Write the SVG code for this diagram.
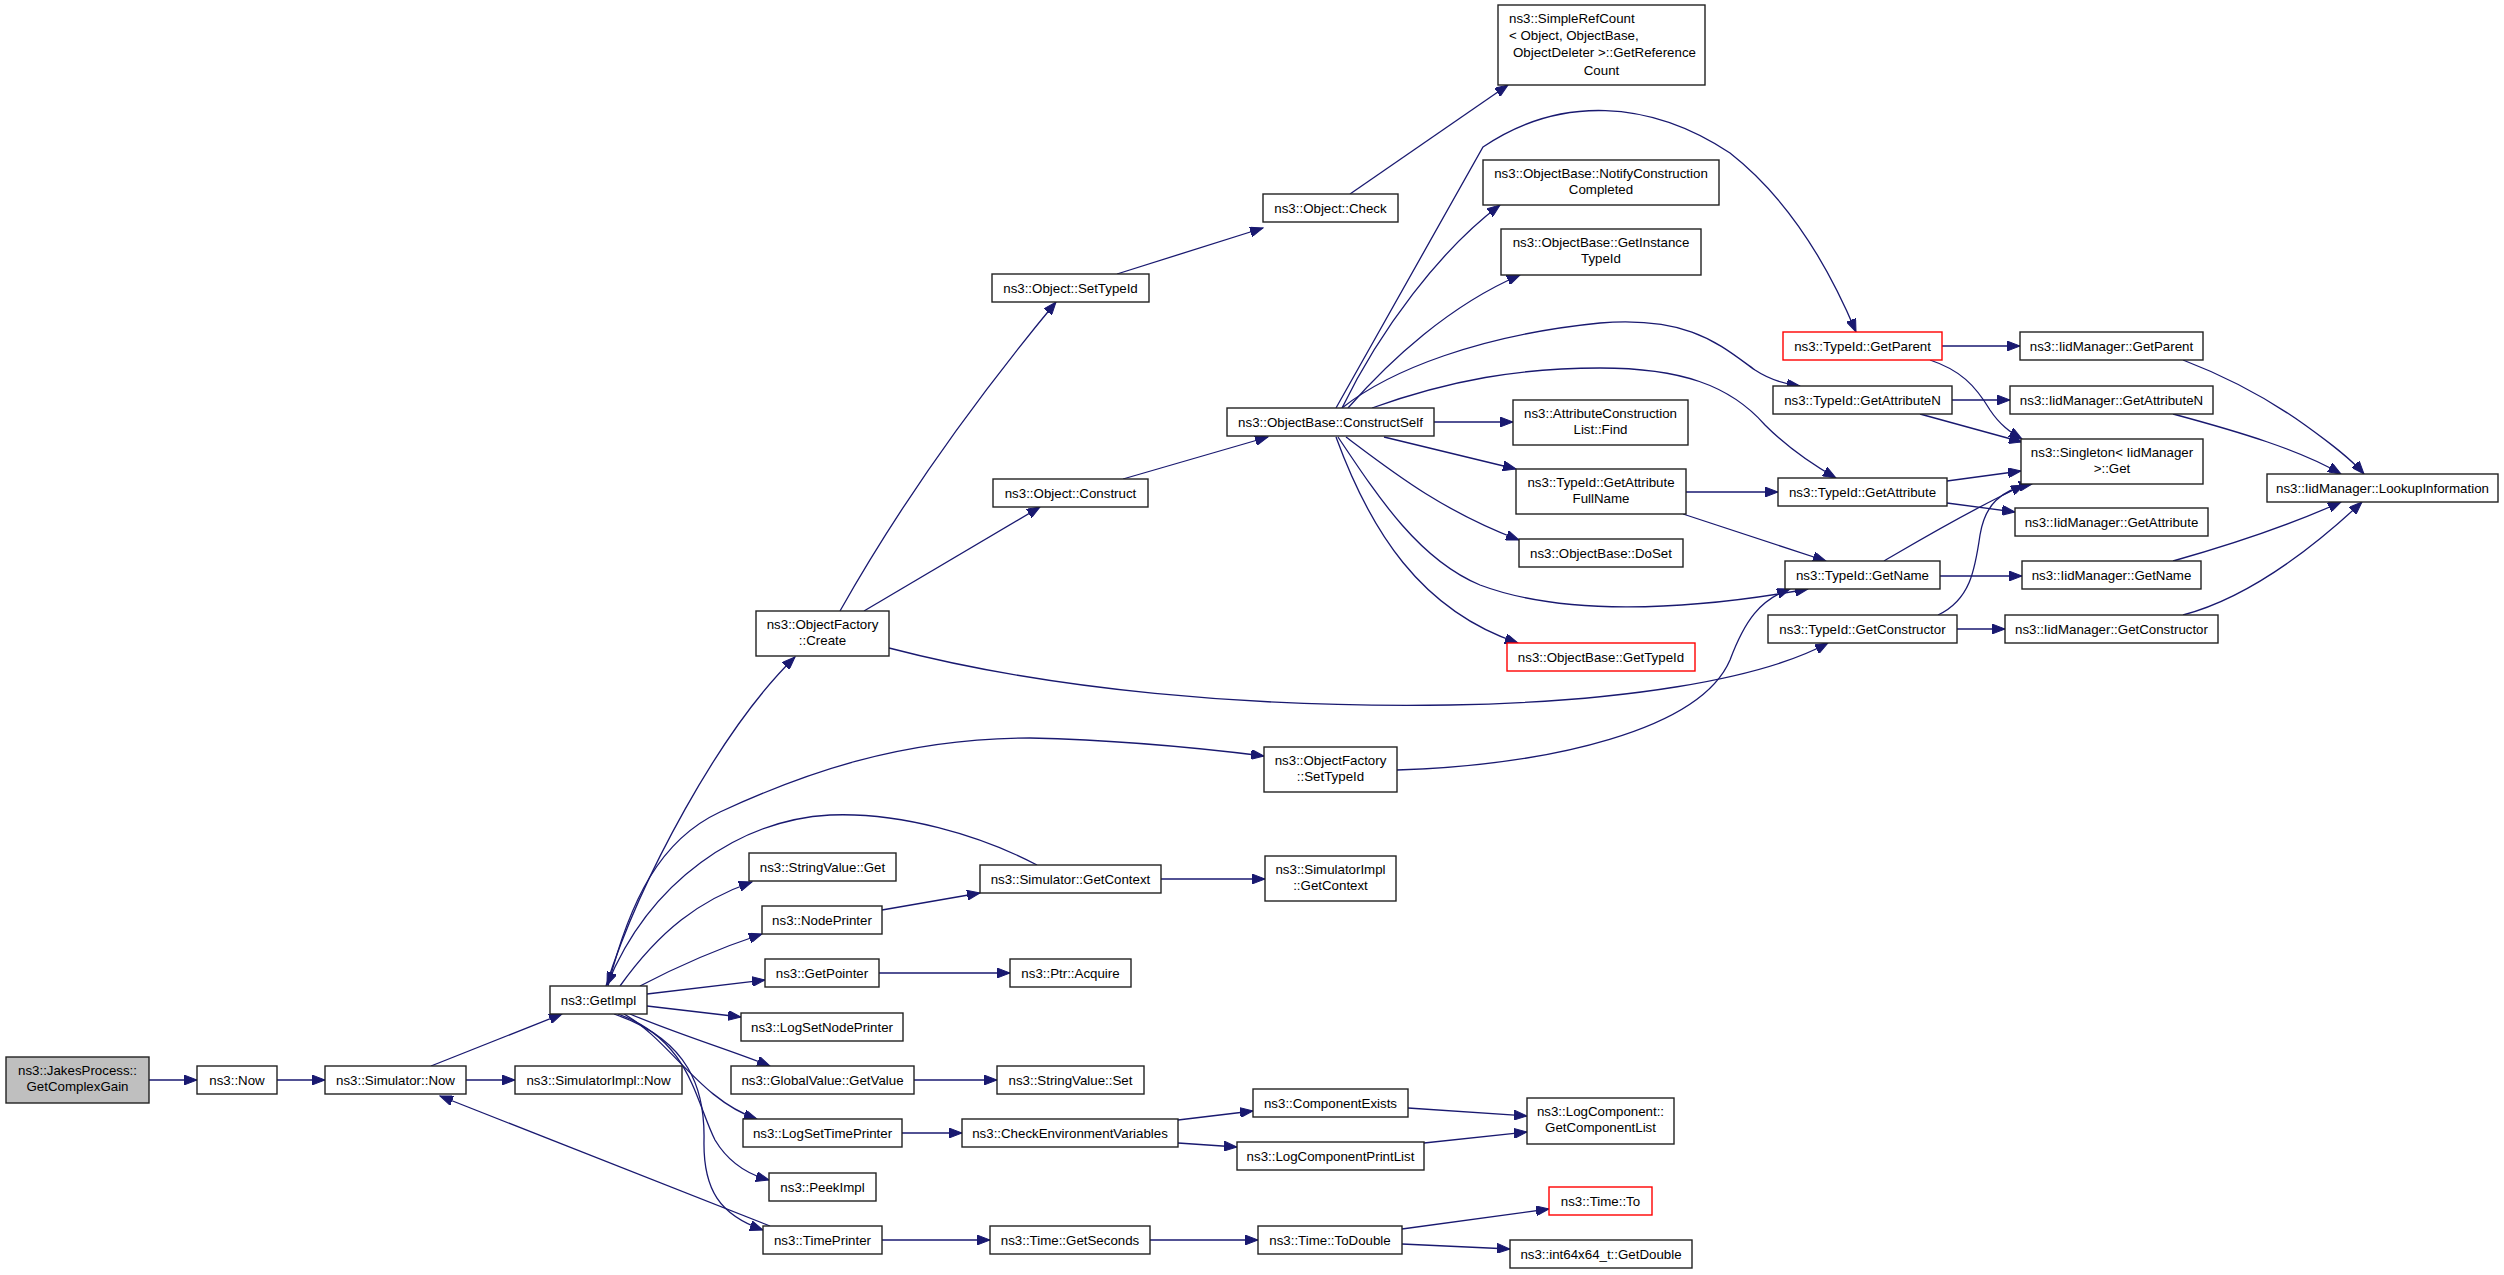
<svg xmlns="http://www.w3.org/2000/svg" width="2504" height="1275" viewBox="0 0 2504 1275">
<defs>
<marker id="a" markerWidth="14" markerHeight="10" refX="13" refY="5" orient="auto" markerUnits="userSpaceOnUse"><path d="M0,0 L13,5 L0,10 z" fill="#191970" stroke="#191970" stroke-width="1"/></marker>
<style>
.n rect{fill:#fff;stroke:#222;stroke-width:1.4}
.n.r rect{stroke:#f00}
.n.g rect{fill:#bfbfbf}
text{font-family:"Liberation Sans",Arial,Helvetica,sans-serif;font-size:13.3px;fill:#000;text-anchor:middle}
text.l{text-anchor:start}
#edges path{fill:none;stroke:#191970;stroke-width:1.3;marker-end:url(#a)}
</style>
</defs>
<rect width="2504" height="1275" fill="#fff"/>
<g id="edges">
<path d="M149,1080 L197,1080"/>
<path d="M277,1080 L325,1080"/>
<path d="M466,1080 L515,1080"/>
<path d="M431,1066 L562,1014"/>
<path d="M770,1226 L440,1096"/>
<path d="M606,986 C640,880 720,730 795,657"/>
<path d="M608,986 C630,900 660,840 720,812 C800,775 900,738 1030,738 C1120,740 1200,748 1264,756"/>
<path d="M1037,865 C980,835 900,812 830,815 C740,820 650,880 607,985"/>
<path d="M620,986 C660,930 700,900 752,882"/>
<path d="M640,986 C680,965 720,948 762,934"/>
<path d="M647,994 L765,980"/>
<path d="M647,1006 L741,1017"/>
<path d="M630,1014 C680,1035 730,1050 770,1066"/>
<path d="M624,1014 C670,1040 700,1100 757,1119"/>
<path d="M618,1014 C690,1040 695,1100 715,1140 C730,1165 750,1175 769,1180"/>
<path d="M614,1014 C690,1040 705,1090 704,1140 C703,1190 720,1215 763,1230"/>
<path d="M840,611 C880,540 950,430 1056,302"/>
<path d="M864,611 L1040,507"/>
<path d="M889,648 C1050,690 1250,708 1450,705 C1620,702 1760,680 1828,643"/>
<path d="M1117,274 L1263,228"/>
<path d="M1350,194 C1400,160 1450,125 1508,85"/>
<path d="M1123,479 L1268,437"/>
<path d="M1342,408 C1380,330 1440,250 1500,205"/>
<path d="M1348,408 C1390,360 1450,305 1520,275"/>
<path d="M1336,408 L1483,147 C1560,95 1650,100 1730,153 C1790,200 1830,270 1856,332"/>
<path d="M1342,408 C1390,370 1480,335 1600,323 C1690,316 1720,345 1755,370 C1770,380 1785,384 1800,386"/>
<path d="M1372,408 C1450,380 1520,368 1600,368 C1680,368 1730,385 1765,425 C1790,450 1815,466 1836,478"/>
<path d="M1434,422 L1513,422"/>
<path d="M1384,437 L1516,469"/>
<path d="M1346,437 C1390,470 1440,510 1519,540"/>
<path d="M1338,437 C1380,500 1420,560 1480,585 C1560,615 1680,612 1808,589"/>
<path d="M1336,437 C1370,530 1420,610 1518,643"/>
<path d="M1397,770 C1550,765 1700,730 1730,660 C1745,620 1760,600 1790,589"/>
<path d="M1686,492 L1778,492"/>
<path d="M1683,514 L1826,561"/>
<path d="M1942,346 L2020,346"/>
<path d="M1952,400 L2010,400"/>
<path d="M1930,360 C1960,370 1975,385 1990,410 C2000,425 2010,432 2022,439"/>
<path d="M1920,414 L2022,442"/>
<path d="M1947,481 L2021,471"/>
<path d="M1947,503 L2015,512"/>
<path d="M1884,561 C1920,540 1970,510 2024,485"/>
<path d="M1940,576 L2022,576"/>
<path d="M1938,615 C1970,600 1975,570 1980,535 C1985,505 2000,490 2032,484"/>
<path d="M1957,629 L2005,629"/>
<path d="M2183,360 C2230,378 2270,400 2305,425 C2330,443 2350,458 2364,474"/>
<path d="M2173,414 C2240,432 2300,450 2341,474"/>
<path d="M2173,561 C2230,545 2290,525 2341,502"/>
<path d="M2183,615 C2240,600 2300,560 2362,502"/>
<path d="M1161,879 L1265,879"/>
<path d="M882,910 L980,893"/>
<path d="M879,973 L1010,973"/>
<path d="M914,1080 L997,1080"/>
<path d="M902,1133 L962,1133"/>
<path d="M1178,1120 L1253,1111"/>
<path d="M1178,1143 L1237,1147"/>
<path d="M1408,1108 L1527,1116"/>
<path d="M1424,1143 L1527,1132"/>
<path d="M882,1240 L990,1240"/>
<path d="M1150,1240 L1258,1240"/>
<path d="M1402,1229 L1549,1209"/>
<path d="M1402,1244 L1510,1249"/>
</g>
<g id="n0" class="n g"><rect x="6" y="1057" width="143" height="46"/><text x="77.5" y="1074.5">ns3::JakesProcess::</text><text x="77.5" y="1091">GetComplexGain</text></g>
<g id="n1" class="n"><rect x="197" y="1066" width="80" height="28"/><text x="237" y="1084.5">ns3::Now</text></g>
<g id="n2" class="n"><rect x="325" y="1066" width="141" height="28"/><text x="395.5" y="1084.5">ns3::Simulator::Now</text></g>
<g id="n3" class="n"><rect x="515" y="1066" width="167" height="28"/><text x="598.5" y="1084.5">ns3::SimulatorImpl::Now</text></g>
<g id="n4" class="n"><rect x="550" y="986" width="97" height="28"/><text x="598.5" y="1004.5">ns3::GetImpl</text></g>
<g id="n5" class="n"><rect x="756" y="611" width="133" height="45"/><text x="822.5" y="628.5">ns3::ObjectFactory</text><text x="822.5" y="645">::Create</text></g>
<g id="n6" class="n"><rect x="992" y="274" width="157" height="28"/><text x="1070.5" y="292.5">ns3::Object::SetTypeId</text></g>
<g id="n7" class="n"><rect x="993" y="479" width="155" height="28"/><text x="1070.5" y="497.5">ns3::Object::Construct</text></g>
<g id="n8" class="n"><rect x="1263" y="194" width="135" height="28"/><text x="1330.5" y="212.5">ns3::Object::Check</text></g>
<g id="n9" class="n"><rect x="1498" y="5" width="207" height="80"/><text class="l" x="1509" y="23">ns3::SimpleRefCount</text><text class="l" x="1509" y="40">&lt; Object, ObjectBase,</text><text class="l" x="1513" y="57">ObjectDeleter &gt;::GetReference</text><text x="1601.5" y="74.5">Count</text></g>
<g id="n10" class="n"><rect x="1227" y="408" width="207" height="28"/><text x="1330.5" y="426.5">ns3::ObjectBase::ConstructSelf</text></g>
<g id="n11" class="n"><rect x="1483" y="160" width="236" height="45"/><text x="1601" y="177.5">ns3::ObjectBase::NotifyConstruction</text><text x="1601" y="194">Completed</text></g>
<g id="n12" class="n"><rect x="1501" y="229" width="200" height="46"/><text x="1601" y="246.5">ns3::ObjectBase::GetInstance</text><text x="1601" y="263">TypeId</text></g>
<g id="n13" class="n r"><rect x="1783" y="332" width="159" height="28"/><text x="1862.5" y="350.5">ns3::TypeId::GetParent</text></g>
<g id="n14" class="n"><rect x="1773" y="386" width="179" height="28"/><text x="1862.5" y="404.5">ns3::TypeId::GetAttributeN</text></g>
<g id="n15" class="n"><rect x="1513" y="400" width="175" height="45"/><text x="1600.5" y="417.5">ns3::AttributeConstruction</text><text x="1600.5" y="434">List::Find</text></g>
<g id="n16" class="n"><rect x="1516" y="469" width="170" height="45"/><text x="1601" y="486.5">ns3::TypeId::GetAttribute</text><text x="1601" y="503">FullName</text></g>
<g id="n17" class="n"><rect x="1778" y="478" width="169" height="28"/><text x="1862.5" y="496.5">ns3::TypeId::GetAttribute</text></g>
<g id="n18" class="n"><rect x="1519" y="539" width="164" height="28"/><text x="1601" y="557.5">ns3::ObjectBase::DoSet</text></g>
<g id="n19" class="n"><rect x="1785" y="561" width="155" height="28"/><text x="1862.5" y="579.5">ns3::TypeId::GetName</text></g>
<g id="n20" class="n"><rect x="1768" y="615" width="189" height="28"/><text x="1862.5" y="633.5">ns3::TypeId::GetConstructor</text></g>
<g id="n21" class="n r"><rect x="1507" y="643" width="188" height="28"/><text x="1601" y="661.5">ns3::ObjectBase::GetTypeId</text></g>
<g id="n22" class="n"><rect x="1264" y="747" width="133" height="45"/><text x="1330.5" y="764.5">ns3::ObjectFactory</text><text x="1330.5" y="781">::SetTypeId</text></g>
<g id="n23" class="n"><rect x="2021" y="439" width="182" height="45"/><text x="2112" y="456.5">ns3::Singleton&lt; IidManager</text><text x="2112" y="473">&gt;::Get</text></g>
<g id="n24" class="n"><rect x="2020" y="332" width="183" height="28"/><text x="2111.5" y="350.5">ns3::IidManager::GetParent</text></g>
<g id="n25" class="n"><rect x="2010" y="386" width="203" height="28"/><text x="2111.5" y="404.5">ns3::IidManager::GetAttributeN</text></g>
<g id="n26" class="n"><rect x="2015" y="508" width="193" height="28"/><text x="2111.5" y="526.5">ns3::IidManager::GetAttribute</text></g>
<g id="n27" class="n"><rect x="2022" y="561" width="179" height="28"/><text x="2111.5" y="579.5">ns3::IidManager::GetName</text></g>
<g id="n28" class="n"><rect x="2005" y="615" width="213" height="28"/><text x="2111.5" y="633.5">ns3::IidManager::GetConstructor</text></g>
<g id="n29" class="n"><rect x="2267" y="474" width="231" height="28"/><text x="2382.5" y="492.5">ns3::IidManager::LookupInformation</text></g>
<g id="n30" class="n"><rect x="749" y="853" width="147" height="28"/><text x="822.5" y="871.5">ns3::StringValue::Get</text></g>
<g id="n31" class="n"><rect x="980" y="865" width="181" height="28"/><text x="1070.5" y="883.5">ns3::Simulator::GetContext</text></g>
<g id="n32" class="n"><rect x="1265" y="856" width="131" height="45"/><text x="1330.5" y="873.5">ns3::SimulatorImpl</text><text x="1330.5" y="890">::GetContext</text></g>
<g id="n33" class="n"><rect x="762" y="906" width="120" height="28"/><text x="822" y="924.5">ns3::NodePrinter</text></g>
<g id="n34" class="n"><rect x="765" y="959" width="114" height="28"/><text x="822" y="977.5">ns3::GetPointer</text></g>
<g id="n35" class="n"><rect x="1010" y="959" width="121" height="28"/><text x="1070.5" y="977.5">ns3::Ptr::Acquire</text></g>
<g id="n36" class="n"><rect x="741" y="1013" width="162" height="28"/><text x="822" y="1031.5">ns3::LogSetNodePrinter</text></g>
<g id="n37" class="n"><rect x="731" y="1066" width="183" height="28"/><text x="822.5" y="1084.5">ns3::GlobalValue::GetValue</text></g>
<g id="n38" class="n"><rect x="997" y="1066" width="147" height="28"/><text x="1070.5" y="1084.5">ns3::StringValue::Set</text></g>
<g id="n39" class="n"><rect x="743" y="1119" width="159" height="28"/><text x="822.5" y="1137.5">ns3::LogSetTimePrinter</text></g>
<g id="n40" class="n"><rect x="962" y="1119" width="216" height="28"/><text x="1070" y="1137.5">ns3::CheckEnvironmentVariables</text></g>
<g id="n41" class="n"><rect x="769" y="1173" width="107" height="28"/><text x="822.5" y="1191.5">ns3::PeekImpl</text></g>
<g id="n42" class="n"><rect x="763" y="1226" width="119" height="28"/><text x="822.5" y="1244.5">ns3::TimePrinter</text></g>
<g id="n43" class="n"><rect x="990" y="1226" width="160" height="28"/><text x="1070" y="1244.5">ns3::Time::GetSeconds</text></g>
<g id="n44" class="n"><rect x="1253" y="1089" width="155" height="28"/><text x="1330.5" y="1107.5">ns3::ComponentExists</text></g>
<g id="n45" class="n"><rect x="1237" y="1142" width="187" height="28"/><text x="1330.5" y="1160.5">ns3::LogComponentPrintList</text></g>
<g id="n46" class="n"><rect x="1527" y="1098" width="147" height="46"/><text x="1600.5" y="1115.5">ns3::LogComponent::</text><text x="1600.5" y="1132">GetComponentList</text></g>
<g id="n47" class="n r"><rect x="1549" y="1187" width="103" height="28"/><text x="1600.5" y="1205.5">ns3::Time::To</text></g>
<g id="n48" class="n"><rect x="1258" y="1226" width="144" height="28"/><text x="1330" y="1244.5">ns3::Time::ToDouble</text></g>
<g id="n49" class="n"><rect x="1510" y="1240" width="182" height="28"/><text x="1601" y="1258.5">ns3::int64x64_t::GetDouble</text></g>
</svg>
